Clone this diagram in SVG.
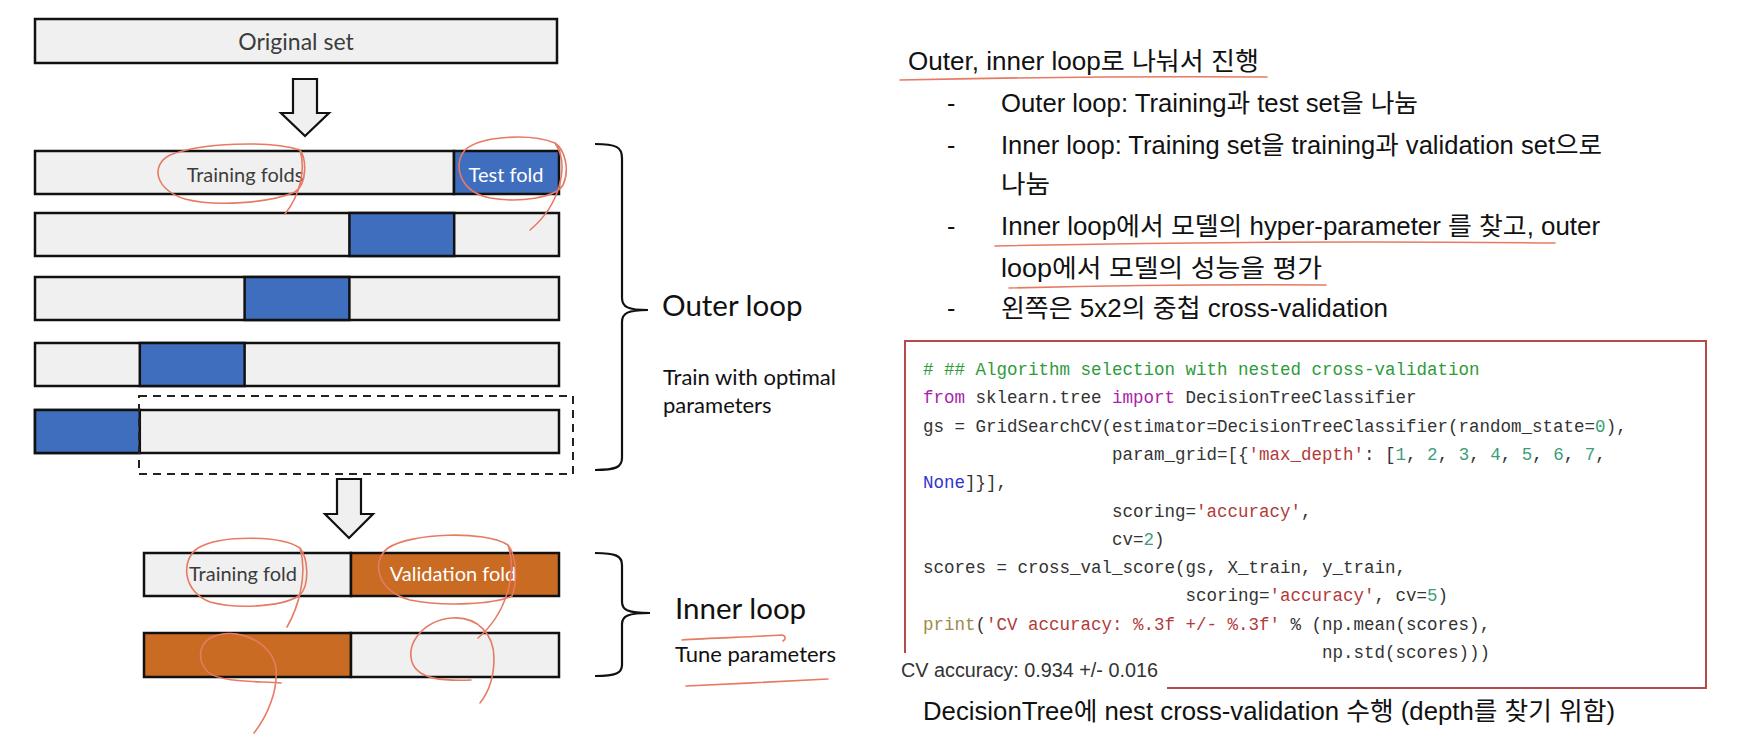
<svg xmlns="http://www.w3.org/2000/svg" width="1754" height="736" viewBox="0 0 1754 736">
  <defs>
    <style>
      .box { stroke: #111; stroke-width: 2.5; }
      .gray { fill: #f0f0f0; }
      .blue { fill: #3f6ebe; }
      .orange { fill: #c96b22; }
      .lbl { font-family: Lato, "Open Sans", sans-serif; font-size: 20px; fill: #3c3c3c; text-anchor: middle; }
      .lbl-w { font-family: Lato, "Open Sans", sans-serif; font-size: 20px; fill: #ffffff; text-anchor: middle; }
      .arrow { fill: #f0f0f0; stroke: #111; stroke-width: 2.2; stroke-linejoin: miter; }
      .brace { fill: none; stroke: #111; stroke-width: 2.2; }
      .big { font-family: Lato, "Open Sans", sans-serif; font-size: 29.5px; fill: #111; }
      .mid { font-family: Lato, "Open Sans", sans-serif; font-size: 22px; fill: #111; }
      .ink { fill: none; stroke: #e77a63; stroke-width: 1.6; stroke-linecap: round; stroke-linejoin: round; }
      .note { font-family: "Liberation Sans", Arial, "Noto Sans CJK KR", sans-serif; font-size: 25px; fill: #111; }
      .code { font-family: "Liberation Mono", "Courier New", monospace; font-size: 17.5px; fill: #333; white-space: pre; }
      .cm { fill: #2e9b3a; }
      .kw { fill: #aa22aa; }
      .kc { fill: #3333cc; }
      .st { fill: #b23a3a; }
      .nu { fill: #3c9d7a; }
      .bi { fill: #a08a4a; }
    </style>
  </defs>

  <!-- original data set -->
  <g id="original-set">
    <rect class="box gray" x="35" y="19" width="522" height="44"/>
    <text class="lbl" x="296" y="50" style="font-size:23px">Original set</text>
  </g>

  <!-- split arrows -->
  <g id="connectors">
    <polygon class="arrow" points="293,79 317,79 317,113 329,113 305,136 281,113 293,113"/>
    <polygon class="arrow" points="337,479 361,479 361,514 373,514 349,538 325,514 337,514"/>
  </g>

  <!-- outer loop: five fold splits -->
  <g id="outer-fold-1">
    <rect class="box gray" x="35" y="151" width="419" height="43"/>
    <rect class="box blue" x="454" y="151" width="105" height="43"/>
    <text class="lbl" x="245" y="182">Training folds</text>
    <text class="lbl-w" x="506" y="182">Test fold</text>
  </g>
  <g id="outer-fold-2">
    <rect class="box gray" x="35" y="213" width="524" height="43"/>
    <rect class="box blue" x="349.4" y="213" width="104.8" height="43"/>
  </g>
  <g id="outer-fold-3">
    <rect class="box gray" x="35" y="277" width="524" height="43"/>
    <rect class="box blue" x="244.6" y="277" width="104.8" height="43"/>
  </g>
  <g id="outer-fold-4">
    <rect class="box gray" x="35" y="343" width="524" height="43"/>
    <rect class="box blue" x="139.8" y="343" width="104.8" height="43"/>
  </g>
  <g id="outer-fold-5">
    <rect class="box gray" x="35" y="410" width="524" height="43"/>
    <rect class="box blue" x="35" y="410" width="104.8" height="43"/>
  </g>
  <g id="training-selection">
    <rect x="139" y="396" width="434" height="78" fill="none" stroke="#222" stroke-width="2" stroke-dasharray="8,6"/>
  </g>

  <!-- inner loop: two fold splits -->
  <g id="inner-fold-1">
    <rect class="box gray" x="144" y="553" width="207" height="43"/>
    <rect class="box orange" x="351" y="553" width="208" height="43"/>
    <text class="lbl" x="243" y="581">Training fold</text>
    <text class="lbl-w" x="453" y="581">Validation fold</text>
  </g>
  <g id="inner-fold-2">
    <rect class="box orange" x="144" y="633" width="207" height="44"/>
    <rect class="box gray" x="351" y="633" width="208" height="44"/>
  </g>

  <!-- braces and loop labels -->
  <g id="outer-loop">
    <path class="brace" d="M 595,144 C 616,144 622,147 622,158 L 622,298 C 622,307 628,310 648,310 C 628,310 622,313 622,322 L 622,458 C 622,467 616,470 595,470"/>
    <text class="big" x="662" y="316">Outer loop</text>
    <text class="mid" x="663" y="385">Train with optimal</text>
    <text class="mid" x="663" y="413">parameters</text>
  </g>
  <g id="inner-loop">
    <path class="brace" d="M 595,553 C 616,553 622,556 622,565 L 622,602 C 622,610 628,613 650,613 C 628,613 622,616 622,624 L 622,665 C 622,673 616,676 595,676"/>
    <text class="big" x="675" y="619">Inner loop</text>
    <text class="mid" x="675" y="662">Tune parameters</text>
  </g>

  <!-- hand-drawn pen marks -->
  <g id="pen-marks">
    <path class="ink" d="M 300,150 C 270,140 200,143 170,155 C 150,165 155,190 185,199 C 215,207 270,203 295,192 C 308,183 306,158 300,150 C 306,170 300,195 285,214"/>
    <path class="ink" d="M 555,143 C 530,133 480,136 465,150 C 452,165 460,192 490,198 C 520,203 555,198 563,185 C 570,170 565,150 555,143 C 570,165 560,205 530,230"/>
    <path class="ink" d="M 300,548 C 280,535 220,535 198,548 C 180,560 183,592 210,602 C 240,610 285,606 300,595 C 310,585 308,558 300,548 C 308,575 298,608 287,627"/>
    <path class="ink" d="M 508,545 C 485,530 410,533 388,548 C 370,562 378,592 410,600 C 445,607 495,604 512,596 C 518,580 516,555 508,545 C 518,575 505,615 478,638"/>
    <path class="ink" d="M 281,683 C 260,681 220,683 208,672 C 196,660 198,640 218,635 C 245,629 272,645 276,668 C 278,690 268,715 254,733"/>
    <path class="ink" d="M 471,680 C 445,681 418,680 412,662 C 406,642 425,620 452,618 C 478,616 494,635 494,658 C 494,678 488,693 480,703"/>
    <path class="ink" d="M 682,640 C 710,638 750,637 782,635 C 786,636 786,639 783,641"/>
    <path class="ink" d="M 686,686 C 730,684 790,681 828,679"/>
    <path class="ink" d="M 900,80 Q 1080,76 1267,77"/>
    <path class="ink" d="M 995,246 Q 1270,240 1555,243"/>
    <path class="ink" d="M 1009,288 Q 1170,284 1326,285"/>
  </g>

  <!-- explanatory notes -->
  <g id="notes">
    <text class="note" x="908" y="70" textLength="351" lengthAdjust="spacingAndGlyphs">Outer, inner loop로 나눠서 진행</text>
    <text class="note" x="947" y="112">-</text>
    <text class="note" x="1001" y="112" textLength="417" lengthAdjust="spacingAndGlyphs">Outer loop: Training과 test set을 나눔</text>
    <text class="note" x="947" y="154">-</text>
    <text class="note" x="1001" y="154" textLength="601" lengthAdjust="spacingAndGlyphs">Inner loop: Training set을 training과 validation set으로</text>
    <text class="note" x="1001" y="193" textLength="49" lengthAdjust="spacingAndGlyphs">나눔</text>
    <text class="note" x="947" y="235">-</text>
    <text class="note" x="1001" y="235" textLength="599" lengthAdjust="spacingAndGlyphs">Inner loop에서 모델의 hyper-parameter 를 찾고, outer</text>
    <text class="note" x="1001" y="277" textLength="321" lengthAdjust="spacingAndGlyphs">loop에서 모델의 성능을 평가</text>
    <text class="note" x="947" y="317">-</text>
    <text class="note" x="1001" y="317" textLength="387" lengthAdjust="spacingAndGlyphs">왼쪽은 5x2의 중첩 cross-validation</text>
  </g>

  <!-- code listing -->
  <g id="code-box">
    <path d="M 905,653 L 905,341 L 1706,341 L 1706,688 L 1167,688" fill="none" stroke="#b54a4a" stroke-width="2"/>
    <text class="code" x="923" y="375"><tspan class="cm"># ## Algorithm selection with nested cross-validation</tspan></text>
    <text class="code" x="923" y="403.3"><tspan class="kw">from</tspan> sklearn.tree <tspan class="kw">import</tspan> DecisionTreeClassifier</text>
    <text class="code" x="923" y="431.6">gs = GridSearchCV(estimator=DecisionTreeClassifier(random_state=<tspan class="nu">0</tspan>),</text>
    <text class="code" x="1112" y="459.9">param_grid=[{<tspan class="st">'max_depth'</tspan>: [<tspan class="nu">1</tspan>, <tspan class="nu">2</tspan>, <tspan class="nu">3</tspan>, <tspan class="nu">4</tspan>, <tspan class="nu">5</tspan>, <tspan class="nu">6</tspan>, <tspan class="nu">7</tspan>,</text>
    <text class="code" x="923" y="488.2"><tspan class="kc">None</tspan>]}],</text>
    <text class="code" x="1112" y="516.5">scoring=<tspan class="st">'accuracy'</tspan>,</text>
    <text class="code" x="1112" y="544.8">cv=<tspan class="nu">2</tspan>)</text>
    <text class="code" x="923" y="573.1">scores = cross_val_score(gs, X_train, y_train,</text>
    <text class="code" x="1185.5" y="601.4">scoring=<tspan class="st">'accuracy'</tspan>, cv=<tspan class="nu">5</tspan>)</text>
    <text class="code" x="923" y="629.7"><tspan class="bi">print</tspan>(<tspan class="st">'CV accuracy: %.3f +/- %.3f'</tspan> % (np.mean(scores),</text>
    <text class="code" x="1322" y="658">np.std(scores)))</text>
  </g>

  <!-- printed result -->
  <g id="result">
    <text x="901" y="677" font-family="'Liberation Sans', Arial, sans-serif" font-size="20" fill="#333" textLength="257" lengthAdjust="spacingAndGlyphs">CV accuracy: 0.934 +/- 0.016</text>
    <text class="note" x="923" y="720" textLength="692" lengthAdjust="spacingAndGlyphs">DecisionTree에 nest cross-validation 수행 (depth를 찾기 위함)</text>
  </g>
</svg>
